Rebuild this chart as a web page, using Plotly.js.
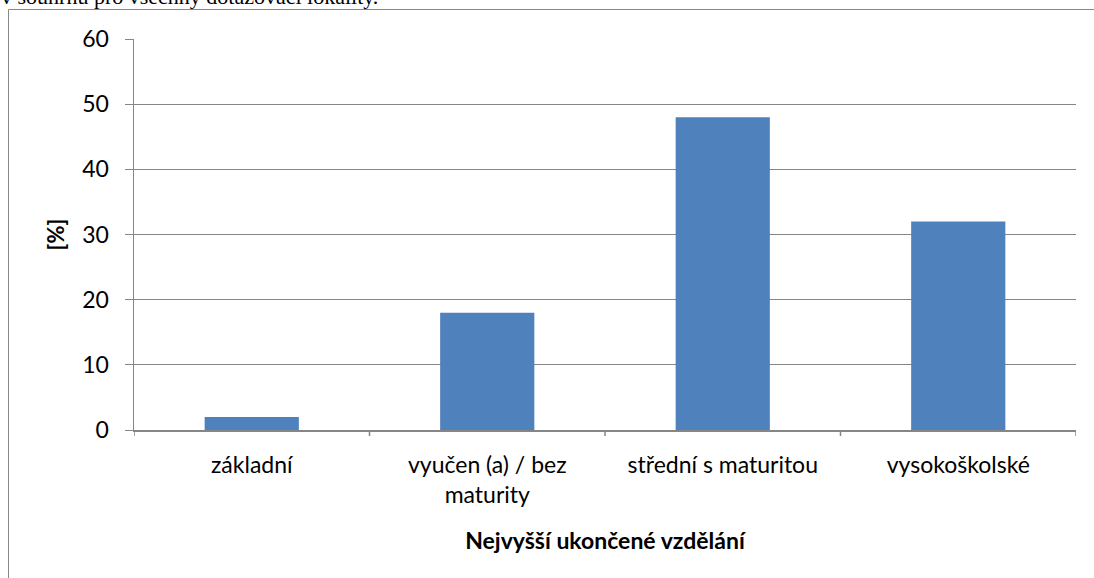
<!DOCTYPE html>
<html>
<head>
<meta charset="utf-8">
<script src="https://cdn.plot.ly/plotly-3.0.1.min.js"></script>
<style>html,body{margin:0;padding:0;background:#fff;}#chart{width:1094px;height:578px;}</style>
</head>
<body>
<div id="chart"></div>
<script>
const categories = ["základní", "vyučen (a) / bez<br>maturity", "střední s maturitou", "vysokoškolské"];
const values = [2, 18, 48, 32];
const yTicks = [0, 10, 20, 30, 40, 50, 60];
const xTitle = "Nejvyšší ukončené vzdělání";
const yTitle = "[%]";
const topText = "v souhrnu pro všechny dotazovací lokality.";

const W = 1094, H = 578;
const L = 134, R = 18, T = 39, B = 148;
const pw = W - L - R, ph = H - T - B;
const px2x = p => (p - L) / pw;
const py2y = p => (H - B - p) / ph;

const FONT = "Lato, 'Open Sans', sans-serif";

const trace = {
  type: "bar",
  x: categories.map((c, i) => i),
  y: values,
  width: 0.4,
  marker: {color: "#4f81bd"},
  hoverinfo: "none"
};

const bounds = categories.map((c, i) => i - 0.5).concat([categories.length - 0.5]);

const layout = {
  width: W, height: H,
  margin: {l: L, r: R, t: T, b: B, pad: 0},
  paper_bgcolor: "#fff", plot_bgcolor: "#fff",
  showlegend: false,
  font: {family: FONT, color: "#000"},
  xaxis: {
    type: "linear",
    range: [-0.5, categories.length - 0.5],
    tickmode: "array",
    tickvals: categories.map((c, i) => i),
    ticktext: categories,
    showgrid: false,
    zeroline: false,
    showline: true, linecolor: "#868686", linewidth: 1.5,
    ticks: "",
    ticklabelstandoff: 14,
    tickfont: {size: 23, color: "#000"},
    title: {text: xTitle, font: {size: 23, color: "#000", weight: "bold"}, standoff: 26}
  },
  yaxis: {
    range: [0, 60],
    tickmode: "array",
    tickvals: yTicks,
    showgrid: true, gridcolor: "#868686", gridwidth: 1,
    zeroline: false,
    showline: true, linecolor: "#868686", linewidth: 1.5,
    ticks: "outside", ticklen: 8, tickcolor: "#868686", tickwidth: 1,
    ticklabelstandoff: 11,
    tickfont: {size: 23, color: "#000"},
    title: {text: yTitle, font: {size: 22, color: "#000", weight: "bold"}, standoff: 11}
  },
  shapes: [
    {type: "rect", xref: "paper", yref: "paper",
     x0: px2x(8.5), x1: px2x(1110), y0: py2y(600), y1: py2y(9.5),
     line: {color: "#898989", width: 1}, fillcolor: "rgba(0,0,0,0)", layer: "below"}
  ].concat(
    bounds.map(b => ({
      type: "line", xref: "x", yref: "paper", x0: b, x1: b, y0: 0, y1: py2y(436),
      line: {color: "#868686", width: 1.5}
    }))
  ),
  annotations: [
    {x: px2x(-1), xref: "paper", y: py2y(-4), yref: "paper", text: topText,
     showarrow: false, xanchor: "left", yanchor: "middle",
     font: {family: "'Liberation Serif', 'DejaVu Serif', serif", size: 22, color: "#000"}}
  ]
};

Plotly.newPlot("chart", [trace], layout, {displayModeBar: false, staticPlot: true});
</script>
</body>
</html>
